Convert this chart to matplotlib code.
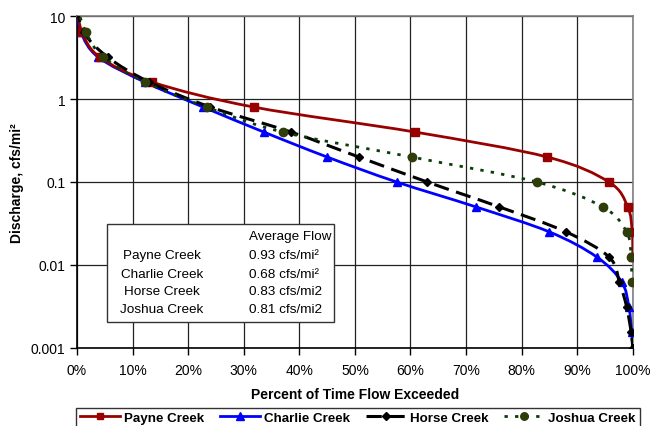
import matplotlib
matplotlib.use('Agg')
import numpy as np
import matplotlib.pyplot as plt
from matplotlib.ticker import FixedLocator, FixedFormatter, NullLocator
from matplotlib.patches import Rectangle, PathPatch
from matplotlib.path import Path
from matplotlib.lines import Line2D

plt.rcParams['font.family'] = ['Liberation Sans', 'DejaVu Sans']

# flow classes (cfs/mi2), halving each step
payne_q = [12.8, 6.4, 3.2, 1.6, 0.8, 0.4, 0.2, 0.1, 0.05, 0.025, 0.0125]
payne_p = [0.0, 0.9, 4.1, 13.5, 31.8, 60.8, 84.6, 95.7, 99.1, 99.9, 100.0]

charlie_q = [12.8, 6.4, 3.2, 1.6, 0.8, 0.4, 0.2, 0.1, 0.05, 0.025, 0.0125, 0.00625, 0.003125, 0.0015625, 0.001]
charlie_p = [0.0, 0.7, 3.8, 12.2, 22.7, 33.6, 45.0, 57.5, 71.8, 85.0, 93.5, 98.0, 99.3, 99.8, 100.0]

horse_q = [12.8, 6.4, 3.2, 1.6, 0.8, 0.4, 0.2, 0.1, 0.05, 0.025, 0.0125, 0.00625, 0.003125, 0.0015625, 0.001]
horse_p = [0.0, 1.2, 5.5, 13.0, 24.0, 38.5, 50.7, 63.0, 76.0, 88.0, 95.7, 97.6, 98.9, 99.7, 100.0]

joshua_q = [12.8, 6.4, 3.2, 1.6, 0.8, 0.4, 0.2, 0.1, 0.05, 0.025, 0.0125, 0.00625]
joshua_p = [0.0, 1.6, 4.7, 12.2, 23.3, 37.0, 60.2, 82.7, 94.6, 98.9, 99.7, 99.8]

creeks = ['Payne Creek', 'Charlie Creek', 'Horse Creek', 'Joshua Creek']
avg_flow = ['0.93 cfs/mi²', '0.68 cfs/mi²', '0.83 cfs/mi2', '0.81 cfs/mi2']

x_ticks = [0, 10, 20, 30, 40, 50, 60, 70, 80, 90, 100]
y_ticks = [0.001, 0.01, 0.1, 1, 10]
y_labels = ['0.001', '0.01', '0.1', '1', '10']


def smooth_path(p, q):
    # Excel-style smoothed line: Catmull-Rom -> cubic Bezier in (x, log q) space
    pts = np.column_stack([p, np.log10(q)])
    n = len(pts)
    verts = [pts[0]]
    codes = [Path.MOVETO]
    for i in range(n - 1):
        p0 = pts[max(i - 1, 0)]
        p1 = pts[i]
        p2 = pts[i + 1]
        p3 = pts[min(i + 2, n - 1)]
        c1 = p1 + (p2 - p0) / 6.0
        c2 = p2 - (p3 - p1) / 6.0
        verts += [c1, c2, p2]
        codes += [Path.CURVE4] * 3
    verts = np.array(verts)
    verts[:, 1] = 10 ** verts[:, 1]
    return Path(verts, codes)


fig = plt.figure(figsize=(6.53, 4.27), dpi=100)
ax = fig.add_axes([0.118, 0.183, 0.851, 0.777])

series = [
    (payne_p, payne_q, dict(color='#990000', lw=2, ls='-'),
     dict(marker='s', ms=5.5, mfc='#990000', mec='#990000'), 4),
    (charlie_p, charlie_q, dict(color='#0000FF', lw=2, ls='-'),
     dict(marker='^', ms=6, mfc='#0000FF', mec='#0000FF'), 3),
    (horse_p, horse_q, dict(color='black', lw=2.2, ls=(0, (5, 2.5))),
     dict(marker='D', ms=4.5, mfc='black', mec='black'), 5),
    (joshua_p, joshua_q, dict(color='#0B3D0B', lw=2, ls=(0, (1.2, 2.6))),
     dict(marker='o', ms=6, mfc='#2E3D0A', mec='#2E3D0A'), 6),
]

handles = []
for p, q, lstyle, mstyle, z in series:
    patch = PathPatch(smooth_path(p, q), fill=False, ec=lstyle['color'],
                      lw=lstyle['lw'], ls=lstyle['ls'], zorder=z)
    ax.add_patch(patch)
    ax.plot(p, q, ls='none', zorder=z + 0.5, **mstyle)
    handles.append(Line2D([], [], color=lstyle['color'], lw=lstyle['lw'],
                          ls=lstyle['ls'], **mstyle))

ax.set_yscale('log')
ax.set_xlim(0, 100)
ax.set_ylim(0.001, 10)
ax.xaxis.set_major_locator(FixedLocator(x_ticks))
ax.set_xticklabels([f'{t}%' for t in x_ticks])
ax.yaxis.set_major_locator(FixedLocator(y_ticks))
ax.yaxis.set_major_formatter(FixedFormatter(y_labels))
ax.yaxis.set_minor_locator(NullLocator())
ax.tick_params(axis='both', direction='out', length=5, width=1,
               labelsize=10, color='black')
ax.tick_params(axis='x', pad=6)
ax.grid(True, color='#222222', lw=0.9)
ax.set_axisbelow(True)
for side in ['top', 'right']:
    ax.spines[side].set_color('#808080')
    ax.spines[side].set_linewidth(1.2)
for side in ['left', 'bottom']:
    ax.spines[side].set_color('black')
    ax.spines[side].set_linewidth(1.2)

ax.set_xlabel('Percent of Time Flow Exceeded', fontsize=10, fontweight='bold',
              labelpad=7)
ax.set_ylabel('Discharge, cfs/mi²', fontsize=10, fontweight='bold', labelpad=5)

# average flow box, in figure pixels
box = Rectangle((107, 427 - 323), 227, 98, transform=None, fill=True,
                fc='white', ec='#333333', lw=1, zorder=7)
fig.patches.append(box)
fig.text(290 / 653, 1 - 237 / 427, 'Average Flow', ha='center', va='center',
         fontsize=9.7, zorder=8)
row_y = [256, 275, 292, 310]
for name, val, ry in zip(creeks, avg_flow, row_y):
    fig.text(162 / 653, 1 - ry / 427, name, ha='center', va='center',
             fontsize=9.7, zorder=8)
    fig.text(249 / 653, 1 - ry / 427, val, ha='left', va='center',
             fontsize=9.7, zorder=8)

leg = fig.legend(handles, creeks, loc='lower center',
                 bbox_to_anchor=(0.548, -0.02), ncol=4,
                 frameon=True, fancybox=False, edgecolor='black',
                 prop={'weight': 'bold', 'size': 9.6}, handlelength=3.0,
                 handletextpad=0.3, columnspacing=1.2, borderpad=0.3,
                 markerscale=0.9)
leg.get_frame().set_linewidth(1)

fig.savefig('out.png', dpi=100)
